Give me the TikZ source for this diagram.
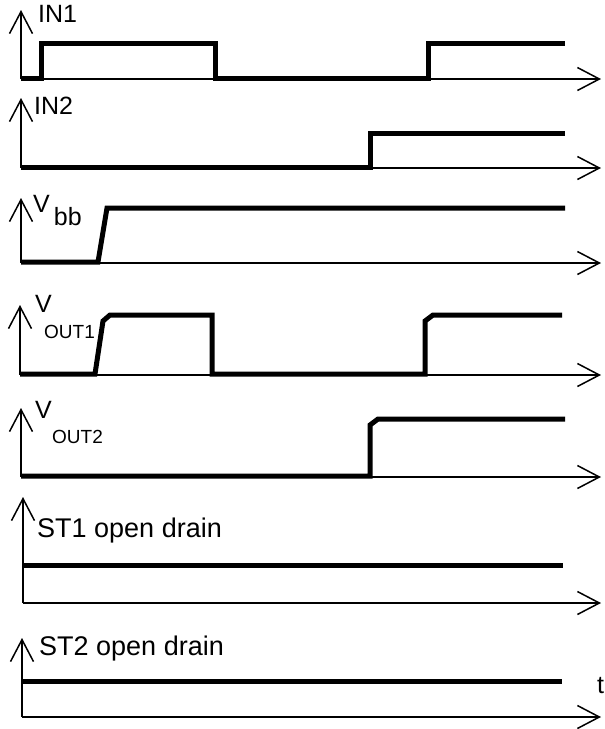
\documentclass[tikz,border=0pt]{standalone}
\usepackage{fontspec}
\setmainfont{Liberation Sans}
\usetikzlibrary{arrows.meta}
\begin{document}
\begin{tikzpicture}[x=1pt,y=-1pt,>={Straight Barb[length=22pt,width=23pt]},
   ax/.style={->,line width=1.5pt},
   sig/.style={line width=5pt},
   lbl/.style={anchor=base west,inner sep=0pt,font=\fontsize{25}{25}\selectfont},
   sub/.style={anchor=base west,inner sep=0pt,font=\fontsize{19}{19}\selectfont},
   big/.style={anchor=base west,inner sep=0pt,font=\fontsize{27}{27}\selectfont}]
   \useasboundingbox (0,0) rectangle (605,729);

   % IN1
   \draw[ax] (21,79) -- (21,10);
   \draw[ax] (21,79) -- (601,79);
   \node[lbl] (in1) at (38,22) {IN1};
   \draw[sig] (21,78) -- (41,78) -- (41,43) -- (215,43) -- (215,78)
      -- (428,78) -- (428,43) -- (565,43);

   % IN2
   \draw[ax] (21,168) -- (21,98);
   \draw[ax] (21,168) -- (601,168);
   \node[lbl] (in2) at (34,114) {IN2};
   \draw[sig] (21,167) -- (370,167) -- (370,133) -- (565,133);

   % Vbb
   \draw[ax] (21,263) -- (21,198);
   \draw[ax] (21,263) -- (601,263);
   \node[lbl] (vbb) at (33,212) {V\hspace{4pt}\raisebox{-13pt}{bb}};
   \draw[sig] (21,262) -- (98,262) -- (107,208) -- (565,208);

   % VOUT1
   \draw[ax] (20,375) -- (20,305);
   \draw[ax] (20,375) -- (601,375);
   \node[lbl] (vout1) at (35,312) {V};
   \node[sub] (out1) at (44,338) {OUT1};
   \draw[sig] (20,374) -- (95,374) -- (103,321) -- (110,315) -- (212,315)
      -- (212,374) -- (425,374) -- (425,321) -- (433,315) -- (562,315);

   % VOUT2
   \draw[ax] (21,477) -- (21,408);
   \draw[ax] (21,477) -- (601,477);
   \node[lbl] (vout2) at (35,418) {V};
   \node[sub] (out2) at (52,443) {OUT2};
   \draw[sig] (21,476) -- (370,476) -- (370,425) -- (378,419) -- (565,419);

   % ST1
   \draw[ax] (23,603) -- (23,497);
   \draw[ax] (23,603) -- (601,603);
   \node[big] (st1) at (37,537) {ST1 open drain};
   \draw[sig] (23,565) -- (563,565);

   % ST2
   \draw[ax] (22,717) -- (22,638);
   \draw[ax] (22,717) -- (601,717);
   \node[big] (st2) at (39,655) {ST2 open drain};
   \draw[sig] (22,681) -- (562,681);
   \node[lbl] (t) at (597,693) {t};

\end{tikzpicture}
\end{document}
